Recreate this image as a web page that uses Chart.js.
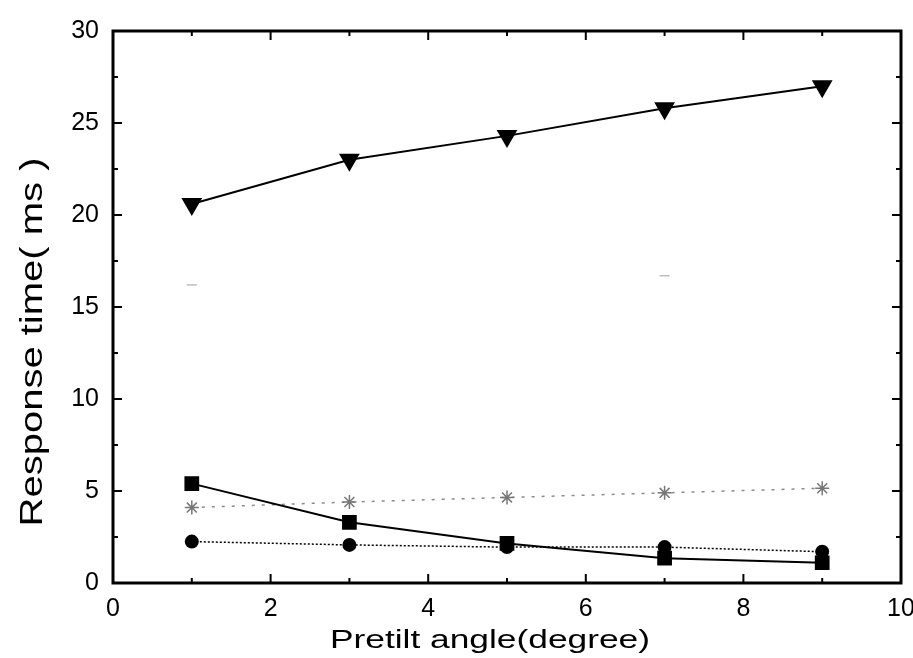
<!DOCTYPE html>
<html>
<head>
<meta charset="utf-8">
<script src="https://cdn.jsdelivr.net/npm/chart.js@4/dist/chart.umd.min.js"></script>
<style>
  html, body { margin: 0; padding: 0; background: #fff; }
  #wrap { width: 913px; height: 658px; }
</style>
</head>
<body>
<div id="wrap"><canvas id="c" width="913" height="658"></canvas></div>
<script>
// ---- data ----
const pretiltAngle = [1, 3, 5, 7, 9];
const responseTriangle = [20.6, 23.0, 24.3, 25.8, 27.0];
const responseSquare = [5.4, 3.3, 2.15, 1.35, 1.1];
const responseCircle = [2.25, 2.07, 1.95, 1.95, 1.7];
const responseStar = [4.1, 4.4, 4.65, 4.9, 5.15];
const faintAngle = [1, 7];
const responseFaint = [16.2, 16.7];
const xTickValues = [0, 2, 4, 6, 8, 10];
const yTickValues = [0, 5, 10, 15, 20, 25, 30];
const xTitle = 'Pretilt angle(degree)';
const yTitle = 'Response time( ms )';

function pts(xs, ys) { return xs.map((x, i) => ({ x: x, y: ys[i] })); }

const FONT = '"Liberation Sans", Arial, Helvetica, sans-serif';

const framePlugin = {
  id: 'frame',
  afterDatasetsDraw(chart) {
    const ctx = chart.ctx, a = chart.chartArea;
    const xs = chart.scales.x, ys = chart.scales.y;
    ctx.save();
    ctx.strokeStyle = '#000';
    ctx.lineCap = 'butt';
    ctx.lineWidth = 2;
    for (let v = 0; v <= 10; v += 1) {
      const px = xs.getPixelForValue(v);
      const len = (v % 2 === 0) ? 9 : 5;
      ctx.beginPath();
      ctx.moveTo(px, a.bottom); ctx.lineTo(px, a.bottom - len);
      ctx.moveTo(px, a.top); ctx.lineTo(px, a.top + len);
      ctx.stroke();
    }
    for (let v = 0; v <= 30; v += 2.5) {
      const py = ys.getPixelForValue(v);
      const len = (v % 5 === 0) ? 9 : 5;
      ctx.beginPath();
      ctx.moveTo(a.left, py); ctx.lineTo(a.left + len, py);
      ctx.moveTo(a.right, py); ctx.lineTo(a.right - len, py);
      ctx.stroke();
    }
    ctx.lineWidth = 3;
    ctx.strokeRect(a.left, a.top, a.right - a.left, a.bottom - a.top);
    ctx.restore();
  },
  afterDraw(chart) {
    const ctx = chart.ctx;
    ctx.save();
    ctx.fillStyle = '#000';
    ctx.textAlign = 'center';
    ctx.textBaseline = 'alphabetic';
    // x title
    ctx.font = '25px ' + FONT;
    let w = ctx.measureText(xTitle).width;
    ctx.save();
    ctx.translate(490, 648);
    ctx.scale(320 / w, 1);
    ctx.fillText(xTitle, 0, 0);
    ctx.restore();
    // y title
    ctx.font = '32px ' + FONT;
    w = ctx.measureText(yTitle).width;
    ctx.save();
    ctx.translate(42, 342);
    ctx.rotate(-Math.PI / 2);
    ctx.scale(369 / w, 1);
    ctx.fillText(yTitle, 0, 0);
    ctx.restore();
    ctx.restore();
  }
};

new Chart(document.getElementById('c'), {
  type: 'scatter',
  data: {
    datasets: [
      {
        label: 'triangle',
        data: pts(pretiltAngle, responseTriangle),
        showLine: true,
        borderColor: '#000', backgroundColor: '#000',
        borderWidth: 2,
        pointStyle: 'triangle', rotation: 180,
        pointRadius: 10, pointHoverRadius: 10
      },
      {
        label: 'square',
        data: pts(pretiltAngle, responseSquare),
        showLine: true,
        borderColor: '#000', backgroundColor: '#000',
        borderWidth: 2,
        pointStyle: 'rect',
        pointRadius: 9, pointHoverRadius: 9
      },
      {
        label: 'circle',
        data: pts(pretiltAngle, responseCircle),
        showLine: true,
        borderColor: '#000', backgroundColor: '#000',
        borderWidth: 1.5, borderDash: [2, 2],
        pointStyle: 'circle',
        pointRadius: 7, pointHoverRadius: 7,
        pointBorderWidth: 0
      },
      {
        label: 'star',
        data: pts(pretiltAngle, responseStar),
        showLine: true,
        borderColor: '#8a8a8a', backgroundColor: '#8a8a8a',
        borderWidth: 1.5, borderDash: [3, 7],
        pointStyle: 'star',
        pointRadius: 7, pointHoverRadius: 7,
        pointBorderWidth: 1.5, pointBorderColor: '#777'
      },
      {
        label: 'faint',
        data: pts(faintAngle, responseFaint),
        showLine: false,
        borderColor: '#c8c8c8', backgroundColor: '#c8c8c8',
        pointStyle: 'line',
        pointRadius: 5, pointHoverRadius: 5,
        pointBorderWidth: 1.5, pointBorderColor: '#bdbdbd'
      }
    ]
  },
  options: {
    responsive: false,
    animation: false,
    devicePixelRatio: 1,
    layout: { padding: { left: 0, top: 31, right: 11, bottom: 0 } },
    plugins: {
      legend: { display: false },
      tooltip: { enabled: false },
      title: { display: false }
    },
    scales: {
      x: {
        type: 'linear',
        min: 0, max: 10,
        afterFit(s) { s.height = 75; s.paddingLeft = 0; s.paddingRight = 0; },
        afterBuildTicks(s) { s.ticks = xTickValues.map(v => ({ value: v })); },
        grid: { display: false, drawTicks: false },
        border: { display: false },
        ticks: {
          color: '#000',
          font: { family: FONT, size: 25 },
          padding: 11,
          maxRotation: 0,
          autoSkip: false
        }
      },
      y: {
        type: 'linear',
        min: 0, max: 30,
        afterFit(s) { s.width = 113; s.paddingTop = 0; s.paddingBottom = 0; },
        afterBuildTicks(s) { s.ticks = yTickValues.map(v => ({ value: v })); },
        grid: { display: false, drawTicks: false },
        border: { display: false },
        ticks: {
          color: '#000',
          font: { family: FONT, size: 25 },
          padding: 14,
          autoSkip: false
        }
      }
    }
  },
  plugins: [framePlugin]
});
</script>
</body>
</html>
